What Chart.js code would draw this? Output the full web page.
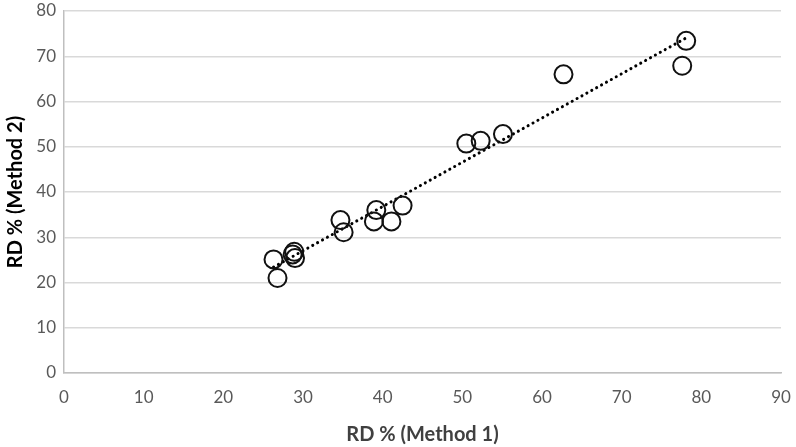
<!DOCTYPE html>
<html>
<head>
<meta charset="utf-8">
<script src="https://cdn.jsdelivr.net/npm/chart.js@4/dist/chart.umd.min.js"></script>
<style>
html,body{margin:0;padding:0;background:#fff;}
#wrap{width:796px;height:447px;position:relative;}
</style>
</head>
<body>
<div id="wrap"><canvas id="c" width="796" height="447"></canvas></div>
<script>
const method1 = [26.3, 26.8, 28.9, 28.7, 29.0, 34.7, 35.1, 39.2, 38.9, 41.1, 42.5, 50.5, 52.3, 55.1, 62.7, 77.6, 78.1];
const method2 = [25.1, 21.0, 26.8, 26.2, 25.4, 33.8, 31.1, 36.0, 33.5, 33.5, 37.0, 50.7, 51.3, 52.8, 66.0, 67.9, 73.4];
const xTicks = [0, 10, 20, 30, 40, 50, 60, 70, 80, 90];
const yTicks = [0, 10, 20, 30, 40, 50, 60, 70, 80];
const xTitle = 'RD % (Method 1)';
const yTitle = 'RD % (Method 2)';

const pts = method1.map((x, i) => ({x: x, y: method2[i]}));
// linear least-squares trendline
const n = method1.length;
const mx = method1.reduce((a, b) => a + b, 0) / n;
const my = method2.reduce((a, b) => a + b, 0) / n;
let sxy = 0, sxx = 0;
for (let i = 0; i < n; i++) { sxy += (method1[i] - mx) * (method2[i] - my); sxx += (method1[i] - mx) ** 2; }
const slope = sxy / sxx, icpt = my - slope * mx;
const xmin = Math.min(...method1), xmax = Math.max(...method1);
const trend = [{x: xmin, y: icpt + slope * xmin}, {x: xmax, y: icpt + slope * xmax}];

const tickFont = {family: 'Lato, "Open Sans", sans-serif', size: 17};
const titleFont = {family: 'Lato, "Open Sans", sans-serif', size: 20, weight: 'bold'};

new Chart(document.getElementById('c'), {
  type: 'scatter',
  data: {
    datasets: [
      {
        type: 'line', data: trend, borderColor: '#000', borderWidth: 3,
        borderDash: [0.1, 5.5], borderCapStyle: 'round', pointRadius: 0, fill: false, order: 2
      },
      {
        data: pts, pointRadius: 9, pointHoverRadius: 9, pointBorderWidth: 2,
        pointBorderColor: '#111', pointBackgroundColor: 'rgba(0,0,0,0)', order: 1
      }
    ]
  },
  options: {
    responsive: false, animation: false,
    layout: {padding: {left: 4, right: 15, top: 10, bottom: 0}},
    plugins: {legend: {display: false}, tooltip: {enabled: false}},
    scales: {
      x: {
        type: 'linear', min: xTicks[0], max: xTicks[xTicks.length - 1],
        afterBuildTicks: s => { s.ticks = xTicks.map(v => ({value: v})); },
        afterFit: s => { s.height = 74; s.paddingRight = 0; s.paddingLeft = 0; },
        grid: {display: false, drawTicks: false},
        border: {display: true, color: '#bfbfbf', width: 1.5},
        ticks: {color: '#595959', font: tickFont, padding: 14, maxRotation: 0},
        title: {display: true, text: xTitle, color: '#404040', font: titleFont, padding: {top: 4, bottom: 0}}
      },
      y: {
        type: 'linear', min: yTicks[0], max: yTicks[yTicks.length - 1],
        afterBuildTicks: s => { s.ticks = yTicks.map(v => ({value: v})); },
        afterFit: s => { s.width = 60; s.paddingTop = 0; s.paddingBottom = 0; },
        grid: {color: '#d9d9d9', lineWidth: 1.5, drawTicks: false},
        border: {display: true, color: '#bfbfbf', width: 1.5},
        ticks: {color: '#595959', font: tickFont, padding: 8},
        title: {display: true, text: yTitle, color: '#000', font: titleFont, padding: {top: 0, bottom: 1}}
      }
    }
  }
});
</script>
</body>
</html>
